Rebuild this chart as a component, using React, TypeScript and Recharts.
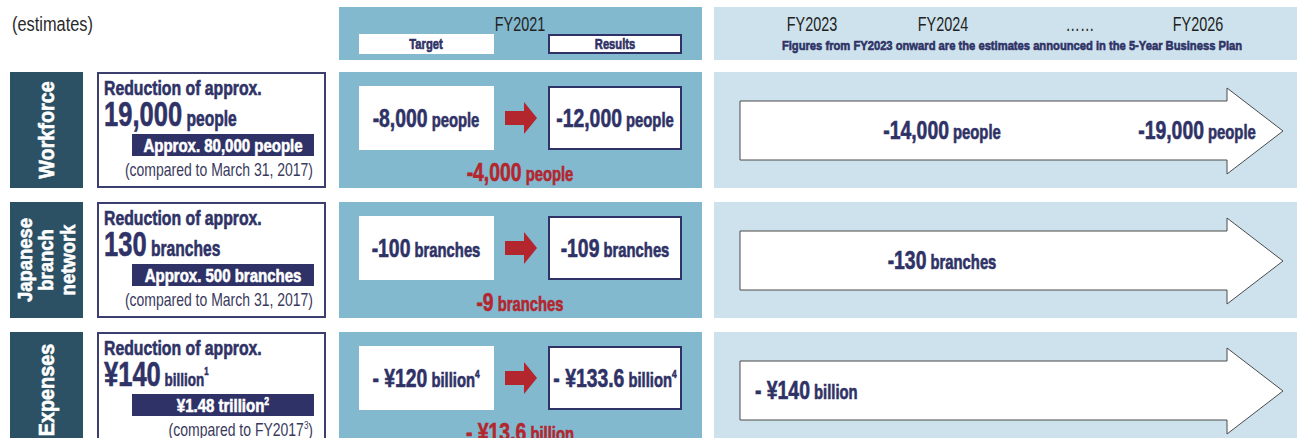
import { Bar, ComposedChart, Customized, XAxis, YAxis } from "recharts";

const rows = ["Workforce", "Japanese branch network", "Expenses"];
const rowLabelLines = [["Workforce"], ["Japanese", "branch", "network"], ["Expenses"]];
const units = ["people", "branches", "billion"];
const planReduction = [19000, 130, 140];
const baseAmounts = [80000, 500, 1.48];
const baseUnits = ["people", "branches", "trillion"];
const baseNotes = ["(compared to March 31, 2017)", "(compared to March 31, 2017)", "(compared to FY2017"];
const targets = [-8000, -100, -120];
const results = [-12000, -109, -133.6];
const differences = [-4000, -9, -13.6];
const fy2023 = [null, null, -140];
const fy2024 = [-14000, -130, null];
const fy2026 = [-19000, null, null];
const planYears = ["FY2023", "FY2024", "……", "FY2026"];

const FONT = "'Liberation Sans', Arial, sans-serif";
const NAVY = "#2f3266";
const RED = "#b3262e";
const MID = "#82b9cf";
const LIGHT = "#cde2ec";
const DARK = "#2c5164";

const data = rows.map((row) => ({ row, span: 1 }));

function fmt(i: number, v: number) {
  const abs = Math.abs(v);
  if (units[i] === "billion") return { num: `${v < 0 ? "- " : ""}¥${abs}`, unit: "billion" };
  return { num: `${v < 0 ? "-" : ""}${abs.toLocaleString("en-US")}`, unit: units[i] };
}

// condensed text: Liberation Sans squeezed horizontally, bold gets a hairline stroke for weight
function T({ x, y, sx = 0.78, rot = 0, anchor = "start", size, weight = "bold", fill = NAVY, baseline, children }: any) {
  const heavy = weight === "bold";
  return (
    <text transform={`translate(${x},${y}) rotate(${rot}) scale(${sx},1)`} textAnchor={anchor} fontSize={size}
      fontWeight={weight} fill={fill} stroke={heavy ? fill : "none"} strokeWidth={heavy ? 0.6 : 0}
      fontFamily={FONT} dominantBaseline={baseline}>
      {children}
    </text>
  );
}

function Amount({ x, y, i, v, anchor = "middle", fill = NAVY, sup }: any) {
  const { num, unit } = fmt(i, v);
  return (
    <T x={x} y={y} anchor={anchor} fill={fill} sx={0.76}>
      <tspan fontSize={25.5}>{num}</tspan>
      <tspan fontSize={19.5}> {unit}</tspan>
      {sup ? <tspan fontSize={11} dy={-9}>{sup}</tspan> : null}
    </T>
  );
}

function RowShape(props: any) {
  const { y, height, index: i } = props;
  const expense = units[i] === "billion";
  const mb = y + 55;
  const mc = y + 46;
  const rc = y + 59;
  const rb = y + 67;
  const lines = rowLabelLines[i];
  return (
    <g>
      <rect x={10} y={y} width={73} height={height} fill={DARK} />
      {lines.map((line, k) => (
        <T key={k} x={46 + (k - (lines.length - 1) / 2) * 21.5} y={y + 58} rot={-90} sx={0.88} anchor="middle"
          baseline="central" fill="#fff" size={lines.length > 1 ? 21 : 22.5}>{line}</T>
      ))}
      <rect x={98} y={y + 1} width={227} height={height - 2} fill="#fff" stroke="#3b3e6e" strokeWidth={2} />
      <T x={104} y={y + 23} size={20.5} sx={0.77}>Reduction of approx.</T>
      <T x={104} y={y + 54} sx={0.71}>
        <tspan fontSize={36}>{expense ? `¥${planReduction[i]}` : planReduction[i].toLocaleString("en-US")}</tspan>
        <tspan fontSize={expense ? 19 : 22}> {units[i]}</tspan>
        {expense ? <tspan fontSize={11} dy={-11}>1</tspan> : null}
      </T>
      <rect x={132} y={y + 62} width={182} height={22} fill={NAVY} />
      <T x={223} y={y + 80} anchor="middle" fill="#fff" size={19} sx={0.79}>
        {expense ? `¥${baseAmounts[i]} ${baseUnits[i]}` : `Approx. ${baseAmounts[i].toLocaleString("en-US")} ${baseUnits[i]}`}
        {expense ? <tspan fontSize={11} dy={-7}>2</tspan> : null}
      </T>
      <T x={313} y={y + 104} anchor="end" fill="#3a3a5c" weight="normal" size={17.5} sx={0.8}>
        {baseNotes[i]}
        {expense ? <tspan fontSize={10} dy={-7}>3</tspan> : null}
        {expense ? <tspan dy={7}>)</tspan> : null}
      </T>

      <rect x={339} y={y} width={363} height={height} fill={MID} />
      <rect x={359} y={y + 14} width={135} height={64} fill="#fff" />
      <Amount x={426} y={mb} i={i} v={targets[i]} sup={expense ? "4" : undefined} />
      <polygon points={`505,${mc - 7} 524,${mc - 7} 524,${mc - 16} 537,${mc} 524,${mc + 16} 524,${mc + 7} 505,${mc + 7}`} fill={RED} />
      <rect x={549} y={y + 15} width={132} height={62} fill="#fff" stroke={NAVY} strokeWidth={2} />
      <Amount x={615} y={mb} i={i} v={results[i]} sup={expense ? "4" : undefined} />
      <Amount x={520} y={y + 109} i={i} v={differences[i]} fill={RED} />

      <rect x={714} y={y} width={583} height={height} fill={LIGHT} />
      <polygon
        points={`740,${rc - 30} 1227,${rc - 30} 1227,${rc - 43} 1283,${rc} 1227,${rc + 43} 1227,${rc + 29} 740,${rc + 29}`}
        fill="#fff" stroke="#4a4a4a" strokeWidth={1}
      />
      {fy2023[i] !== null ? <Amount x={755} y={rb} anchor="start" i={i} v={fy2023[i]} /> : null}
      {fy2024[i] !== null ? <Amount x={942} y={rb} i={i} v={fy2024[i]} /> : null}
      {fy2026[i] !== null ? <Amount x={1197} y={rb} i={i} v={fy2026[i]} /> : null}
    </g>
  );
}

function Header() {
  const yearX = [812, 943, 1080, 1198];
  return (
    <g>
      <T x={12} y={31} fill="#2a2a2a" weight="normal" size={19.5} sx={0.84}>(estimates)</T>
      <rect x={339} y={7} width={363} height={53} fill={MID} />
      <T x={520} y={31} anchor="middle" fill="#222" weight="normal" size={19.5} sx={0.74}>FY2021</T>
      <rect x={359} y={34} width={135} height={20} fill="#fff" />
      <T x={426} y={49} anchor="middle" size={14} sx={0.8}>Target</T>
      <rect x={549} y={35} width={132} height={18} fill="#fff" stroke={NAVY} strokeWidth={2} />
      <T x={615} y={49} anchor="middle" size={14} sx={0.8}>Results</T>
      <rect x={714} y={7} width={583} height={53} fill={LIGHT} />
      {planYears.map((t, k) => (
        <T key={t} x={yearX[k]} y={31} anchor="middle" fill="#222" weight="normal" size={19.5} sx={0.74}>{t}</T>
      ))}
      <T x={1012} y={50} anchor="middle" size={13.5} sx={0.83}>
        Figures from FY2023 onward are the estimates announced in the 5-Year Business Plan
      </T>
    </g>
  );
}

export default function App() {
  return (
    <div style={{ position: "absolute", left: 0, top: 0, width: 1297, height: 438, background: "#fff" }}>
      <ComposedChart layout="vertical" width={1297} height={438} data={data} barCategoryGap={7}
        margin={{ top: 65, right: 0, bottom: -17, left: 0 }}>
        <XAxis type="number" hide domain={[0, 1]} />
        <YAxis type="category" dataKey="row" hide />
        <Customized component={Header} />
        <Bar dataKey="span" shape={RowShape} isAnimationActive={false} />
      </ComposedChart>
    </div>
  );
}
